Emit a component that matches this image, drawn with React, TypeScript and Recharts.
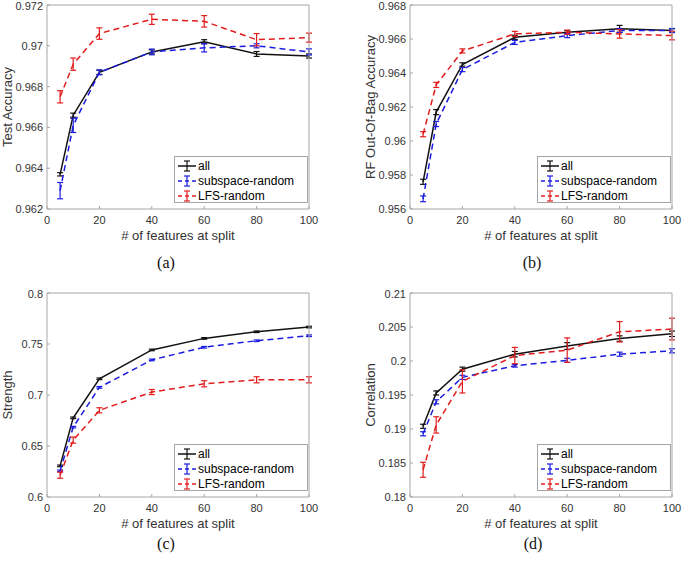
import React from 'react';
import { LineChart, Line, XAxis, YAxis, ErrorBar, Legend, Label } from 'recharts';

// number of features at split (shared x values)
const featureCounts = [5, 10, 20, 40, 60, 80, 100];
const xTicks = [0, 20, 40, 60, 80, 100];

// (a) Test Accuracy
const testAll = [0.9637, 0.9666, 0.9687, 0.9697, 0.9702, 0.9696, 0.9695];
const testAllErr = [0.00008, 0.0001, 0.0001, 0.0001, 0.0001, 0.00012, 0.0001];
const testSub = [0.9629, 0.9661, 0.9687, 0.9697, 0.9699, 0.97, 0.9697];
const testSubErr = [0.0004, 0.00035, 0.00012, 0.00014, 0.0002, 0.0001, 0.00015];
const testLfs = [0.9675, 0.9691, 0.9706, 0.9713, 0.9712, 0.9703, 0.9704];
const testLfsErr = [0.0003, 0.0003, 0.00028, 0.00025, 0.00028, 0.0003, 0.00022];
const testTicks = [0.962, 0.964, 0.966, 0.968, 0.97, 0.972];

// (b) RF Out-Of-Bag Accuracy
const oobAll = [0.9576, 0.9617, 0.9645, 0.9661, 0.9664, 0.9666, 0.9665];
const oobAllErr = [0.00015, 0.00015, 0.0001, 0.00012, 0.0001, 0.0002, 0.0001];
const oobSub = [0.9566, 0.961, 0.9642, 0.9658, 0.9662, 0.9665, 0.9665];
const oobSubErr = [0.00017, 0.00015, 0.00012, 0.00012, 0.00012, 0.00012, 0.00012];
const oobLfs = [0.9604, 0.9633, 0.9653, 0.9663, 0.9664, 0.9663, 0.9662];
const oobLfsErr = [0.00015, 0.00015, 0.00012, 0.00015, 0.00012, 0.00025, 0.00025];
const oobTicks = [0.956, 0.958, 0.96, 0.962, 0.964, 0.966, 0.968];

// (c) Strength
const strAll = [0.6305, 0.6776, 0.7159, 0.7442, 0.7555, 0.762, 0.7666];
const strAllErr = [0.0008, 0.0008, 0.0008, 0.0008, 0.0008, 0.0008, 0.0008];
const strSub = [0.6256, 0.6685, 0.7075, 0.7344, 0.7468, 0.7532, 0.7581];
const strSubErr = [0.0008, 0.0008, 0.0008, 0.0008, 0.0008, 0.0008, 0.0008];
const strLfs = [0.6214, 0.6558, 0.685, 0.7029, 0.711, 0.7149, 0.7149];
const strLfsErr = [0.003, 0.003, 0.0025, 0.0025, 0.003, 0.003, 0.003];
const strTicks = [0.6, 0.65, 0.7, 0.75, 0.8];

// (d) Correlation
const corAll = [0.1904, 0.1953, 0.1988, 0.201, 0.2022, 0.2033, 0.204];
const corAllErr = [0.0003, 0.0003, 0.0003, 0.0004, 0.0005, 0.0004, 0.0004];
const corSub = [0.1893, 0.194, 0.1976, 0.1993, 0.2001, 0.201, 0.2015];
const corSubErr = [0.0003, 0.0003, 0.0003, 0.0002, 0.0003, 0.0003, 0.0003];
const corLfs = [0.184, 0.1906, 0.197, 0.2008, 0.2016, 0.2043, 0.2047];
const corLfsErr = [0.0011, 0.0012, 0.0017, 0.0012, 0.0018, 0.0015, 0.0016];
const corTicks = [0.18, 0.185, 0.19, 0.195, 0.2, 0.205, 0.21];

const series = [
  { key: 'all', name: 'all', color: '#111111', dash: undefined },
  { key: 'sub', name: 'subspace-random', color: '#1c1ce0', dash: '6 4' },
  { key: 'lfs', name: 'LFS-random', color: '#e31d1d', dash: '6 4' },
];

const FONT = '"Liberation Sans", Arial, Helvetica, sans-serif';
const FRAME = '#a6a6a6';
const TEXT = '#333333';

function buildRows(all, allErr, sub, subErr, lfs, lfsErr) {
  return featureCounts.map((x, i) => ({
    x,
    all: all[i],
    allErr: allErr[i],
    sub: sub[i],
    subErr: subErr[i],
    lfs: lfs[i],
    lfsErr: lfsErr[i],
  }));
}

const fmt = (v: number) => String(Number(v.toFixed(4)));

function renderLegend() {
  return (
    <div
      style={{
        width: 134,
        height: 47,
        boxSizing: 'border-box',
        border: `1px solid ${FRAME}`,
        background: '#fff',
        paddingTop: 1,
        fontFamily: FONT,
      }}
    >
      {series.map((s) => (
        <div key={s.key} style={{ display: 'flex', alignItems: 'center', height: 15 }}>
          <svg width={20} height={14} style={{ marginLeft: 2 }}>
            <line x1={1} x2={19} y1={7} y2={7} stroke={s.color} strokeWidth={1.5} strokeDasharray={s.dash ? '4 3' : undefined} />
            <line x1={10} x2={10} y1={2} y2={12} stroke={s.color} strokeWidth={1.2} />
            <line x1={7} x2={13} y1={2} y2={2} stroke={s.color} strokeWidth={1.2} />
            <line x1={7} x2={13} y1={12} y2={12} stroke={s.color} strokeWidth={1.2} />
          </svg>
          <span style={{ fontSize: 12, marginLeft: 1, color: '#000' }}>{s.name}</span>
        </div>
      ))}
    </div>
  );
}

function Panel({ left, top, rows, domain, ticks, yTitle }) {
  const xTitle = (props) => {
    const vb = props.viewBox;
    return (
      <text x={vb.x + vb.width / 2} y={vb.y + 26} textAnchor="middle" dominantBaseline="central" fontSize={13} fontFamily={FONT} fill={TEXT}>
        # of features at split
      </text>
    );
  };
  const yTitleEl = (props) => {
    const vb = props.viewBox;
    const cx = vb.x + vb.width - 40;
    const cy = vb.y + vb.height / 2;
    return (
      <text x={cx} y={cy} transform={`rotate(-90 ${cx} ${cy})`} textAnchor="middle" dominantBaseline="central" fontSize={13} fontFamily={FONT} fill={TEXT}>
        {yTitle}
      </text>
    );
  };
  const tickStyle = { fontSize: 11, fill: TEXT, fontFamily: FONT };
  return (
    <div style={{ position: 'absolute', left, top }}>
      <LineChart width={330} height={250} data={rows} margin={{ top: 4, right: 20, bottom: 40, left: 46 }}>
        <XAxis
          dataKey="x"
          type="number"
          domain={[0, 100]}
          ticks={xTicks}
          height={1}
          stroke={FRAME}
          tickSize={-3}
          tickMargin={10}
          tick={tickStyle}
          label={<Label content={xTitle} />}
        />
        <XAxis xAxisId="top" orientation="top" dataKey="x" type="number" domain={[0, 100]} ticks={xTicks} height={1} stroke={FRAME} tickSize={-3} tick={false} />
        <YAxis
          type="number"
          domain={domain}
          ticks={ticks}
          allowDataOverflow
          width={1}
          stroke={FRAME}
          tickSize={-3}
          tickMargin={7}
          tick={tickStyle}
          tickFormatter={fmt}
          label={<Label content={yTitleEl} />}
        />
        <YAxis yAxisId="right" orientation="right" type="number" domain={domain} ticks={ticks} allowDataOverflow width={1} stroke={FRAME} tickSize={-3} tick={false} />
        <Legend layout="vertical" align="center" verticalAlign="middle" content={renderLegend} wrapperStyle={{ left: 174, top: 156 }} />
        {series.map((s) => (
          <Line
            key={s.key}
            dataKey={s.key}
            name={s.name}
            stroke={s.color}
            strokeWidth={1.5}
            strokeDasharray={s.dash}
            dot={false}
            isAnimationActive={false}
          >
            <ErrorBar dataKey={s.key + 'Err'} direction="y" width={3} stroke={s.color} strokeWidth={1.2} isAnimationActive={false} />
          </Line>
        ))}
      </LineChart>
    </div>
  );
}

const captionStyle = {
  position: 'absolute' as const,
  fontFamily: '"Liberation Serif", "DejaVu Serif", serif',
  fontSize: 16,
  color: '#111',
  transform: 'translate(-50%, -50%)',
};

export default function App() {
  return (
    <div style={{ position: 'absolute', left: 0, top: 0, width: 683, height: 561, background: '#fff' }}>
      <Panel left={0} top={0} rows={buildRows(testAll, testAllErr, testSub, testSubErr, testLfs, testLfsErr)} domain={[0.962, 0.972]} ticks={testTicks} yTitle="Test Accuracy" />
      <Panel left={363} top={0} rows={buildRows(oobAll, oobAllErr, oobSub, oobSubErr, oobLfs, oobLfsErr)} domain={[0.956, 0.968]} ticks={oobTicks} yTitle="RF Out-Of-Bag Accuracy" />
      <Panel left={0} top={288} rows={buildRows(strAll, strAllErr, strSub, strSubErr, strLfs, strLfsErr)} domain={[0.6, 0.8]} ticks={strTicks} yTitle="Strength" />
      <Panel left={363} top={288} rows={buildRows(corAll, corAllErr, corSub, corSubErr, corLfs, corLfsErr)} domain={[0.18, 0.21]} ticks={corTicks} yTitle="Correlation" />
      <div style={{ ...captionStyle, left: 166, top: 263 }}>(a)</div>
      <div style={{ ...captionStyle, left: 532, top: 263 }}>(b)</div>
      <div style={{ ...captionStyle, left: 166, top: 544 }}>(c)</div>
      <div style={{ ...captionStyle, left: 533, top: 544 }}>(d)</div>
    </div>
  );
}
